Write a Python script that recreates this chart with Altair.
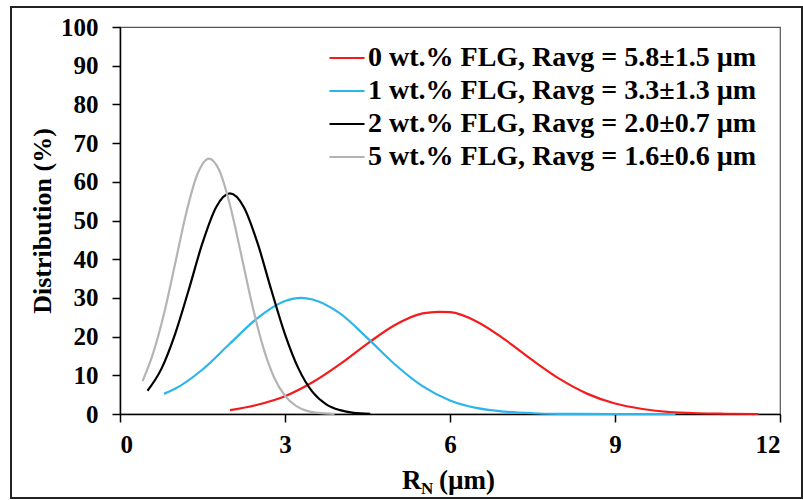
import altair as alt
import pandas as pd

FONT = "Liberation Serif"

series_names = [
    "0 wt.% FLG, Ravg = 5.8±1.5 µm",
    "1 wt.% FLG, Ravg = 3.3±1.3 µm",
    "2 wt.% FLG, Ravg = 2.0±0.7 µm",
    "5 wt.% FLG, Ravg = 1.6±0.6 µm",
]
series_colors = ["#f21c1c", "#2db5ea", "#000000", "#b4b4b4"]

# 0 wt.% FLG (red)
red_x = [2.0, 2.5, 3.0, 3.5, 4.0, 4.5, 5.0, 5.5, 5.8, 6.0, 6.5, 7.0, 7.5, 8.0, 8.5, 9.0, 9.5, 10.0, 10.5, 11.0, 11.6]
red_y = [1.0, 2.4, 4.6, 8.2, 12.9, 18.2, 23.0, 26.0, 26.4, 26.3, 23.8, 19.2, 13.9, 9.0, 5.2, 2.7, 1.3, 0.5, 0.2, 0.07, 0.0]

# 1 wt.% FLG (blue)
blue_x = [0.8, 1.0, 1.5, 2.0, 2.5, 3.0, 3.3, 3.5, 4.0, 4.5, 5.0, 5.5, 6.0, 6.5, 7.0, 7.5, 8.0, 9.0, 10.1]
blue_y = [5.2, 6.5, 11.5, 18.2, 24.8, 29.2, 30.0, 29.6, 26.0, 19.6, 12.8, 7.2, 3.5, 1.5, 0.6, 0.2, 0.05, 0.0, 0.0]

# 2 wt.% FLG (black)
black_x = [0.5, 0.75, 1.0, 1.25, 1.5, 1.75, 2.0, 2.25, 2.5, 2.75, 3.0, 3.25, 3.5, 3.75, 4.0, 4.25, 4.55]
black_y = [6.0, 11.6, 20.6, 32.1, 44.2, 53.5, 57.0, 53.5, 44.2, 32.1, 20.6, 11.6, 5.7, 2.5, 1.0, 0.3, 0.05]

# 5 wt.% FLG (gray)
gray_x = [0.41, 0.6, 0.8, 1.0, 1.2, 1.4, 1.62, 1.8, 2.0, 2.2, 2.4, 2.6, 2.8, 3.0, 3.2, 3.4, 3.6, 3.9]
gray_y = [8.5, 15.6, 25.9, 38.7, 51.7, 61.7, 66.0, 63.1, 54.0, 41.4, 28.4, 17.4, 9.5, 4.7, 2.1, 0.8, 0.3, 0.05]

x_ticks = [0, 3, 6, 9, 12]
y_ticks = [0, 10, 20, 30, 40, 50, 60, 70, 80, 90, 100]

rows = []
for name, xs, ys in zip(series_names, [red_x, blue_x, black_x, gray_x], [red_y, blue_y, black_y, gray_y]):
    for i, (a, b) in enumerate(zip(xs, ys)):
        rows.append({"series": name, "r": a, "d": b, "i": i})
df = pd.DataFrame(rows)

axis_common = dict(
    grid=False,
    domainColor="black",
    domainWidth=1.5,
    tickColor="black",
    tickWidth=1.5,
    tickSize=8,
    labelFont=FONT,
    labelFontWeight="bold",
    labelFontSize=25,
    labelColor="black",
)

lines = alt.Chart(df).mark_line(strokeWidth=2.2, interpolate="monotone").encode(
    x=alt.X("r:Q", scale=alt.Scale(domain=[0, 12], nice=False),
            axis=alt.Axis(values=x_ticks, title=None, labelPadding=10, **axis_common)),
    y=alt.Y("d:Q", scale=alt.Scale(domain=[0, 100], nice=False),
            axis=alt.Axis(values=y_ticks, title="Distribution (%)", labelPadding=14,
                          titleFont=FONT, titleFontWeight="bold", titleFontSize=26,
                          titleColor="black", titlePadding=5, **axis_common)),
    color=alt.Color("series:N", sort=series_names,
                    scale=alt.Scale(domain=series_names, range=series_colors),
                    legend=alt.Legend(orient="none", legendX=208, legendY=12, title=None,
                                      symbolType="stroke", symbolSize=1225, symbolStrokeWidth=2.2,
                                      labelFont=FONT, labelFontWeight="bold", labelFontSize=28,
                                      labelColor="black", labelLimit=900, rowPadding=-1,
                                      labelOffset=2)),
    detail="series:N",
    order="i:Q",
)

one = pd.DataFrame({"k": [0]})
title_r = alt.Chart(one).mark_text(text="R", font=FONT, fontWeight="bold", fontSize=27,
                                   align="left", baseline="alphabetic", color="black").encode(
    x=alt.value(282), y=alt.value(462))
title_n = alt.Chart(one).mark_text(text="N", font=FONT, fontWeight="bold", fontSize=17,
                                   align="left", baseline="alphabetic", color="black").encode(
    x=alt.value(301), y=alt.value(467))
title_rest = alt.Chart(one).mark_text(text="(µm)", font=FONT, fontWeight="bold", fontSize=27,
                                      align="left", baseline="alphabetic", color="black").encode(
    x=alt.value(319), y=alt.value(462))

frame = alt.Chart(one).mark_rect(fill=None, stroke="#222222", strokeWidth=2).encode(
    x=alt.value(-109), x2=alt.value(682), y=alt.value(-20), y2=alt.value(471))

chart = alt.layer(frame, lines, title_r, title_n, title_rest).properties(
    width=660, height=387,
    autosize=alt.AutoSizeParams(type="none"),
    padding={"left": 120, "top": 27, "right": 23, "bottom": 86},
    background="white",
).configure_view(stroke="#555555", strokeWidth=1.2)

chart.save("out.html", embed_options={"renderer": "svg", "actions": False})
